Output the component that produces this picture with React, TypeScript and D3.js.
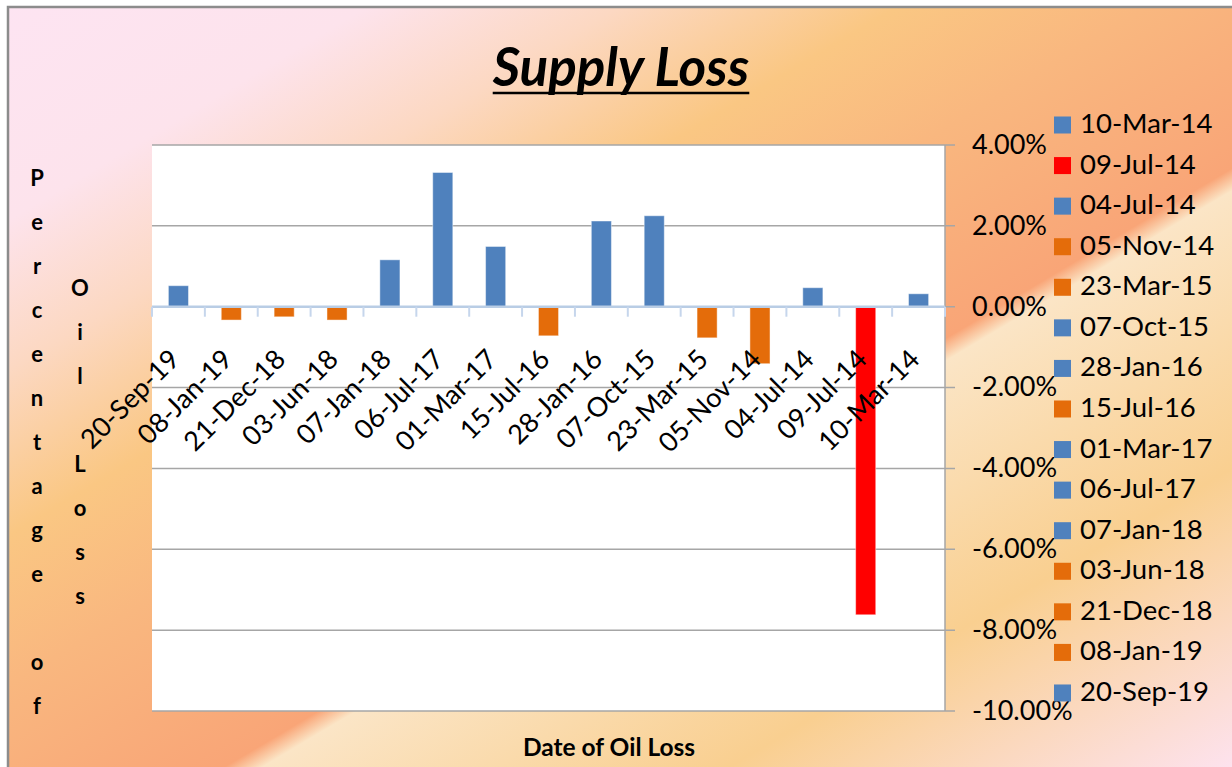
import React, { useEffect, useRef } from "react";
import * as d3 from "d3";

// supply loss per date, in percent, left to right as on the chart
const dates = [
  "20-Sep-19", "08-Jan-19", "21-Dec-18", "03-Jun-18", "07-Jan-18",
  "06-Jul-17", "01-Mar-17", "15-Jul-16", "28-Jan-16", "07-Oct-15",
  "23-Mar-15", "05-Nov-14", "04-Jul-14", "09-Jul-14", "10-Mar-14",
];
const losses = [0.52, -0.33, -0.25, -0.33, 1.16, 3.32, 1.49, -0.72, 2.12, 2.25, -0.77, -1.41, 0.47, -7.62, 0.32];
const yTicks = [4, 2, 0, -2, -4, -6, -8, -10];
const highlightDate = "09-Jul-14";

const titleText = "Supply Loss";
const xTitle = "Date of Oil Loss";
const yTitleCols = ["Percentage of", "Oil Loss"];

const W = 1232;
const H = 767;
const FONT = "Lato, 'Open Sans', sans-serif";

function barColor(d: string, v: number) {
  if (d === highlightDate) return "#ff0000";
  return v >= 0 ? "#4f81bd" : "#e46c0a";
}

export default function App() {
  const ref = useRef<SVGSVGElement>(null);

  useEffect(() => {
    const svg = d3.select(ref.current);
    svg.selectAll("*").remove();

    const left = 152, right = 945, top = 145, bottom = 711;

    const x = d3.scaleBand<string>().domain(dates).range([left, right]).paddingInner(0.62).paddingOuter(0.31);
    const y = d3.scaleLinear().domain([-10, 4]).range([bottom, top]);

    // background gradient
    const grad = svg.append("defs").append("linearGradient")
      .attr("id", "bg")
      .attr("gradientUnits", "userSpaceOnUse")
      .attr("x1", 0).attr("y1", 0).attr("x2", 659).attr("y2", 1109);
    const stops: [number, string][] = [
      [0, "#fde4f2"], [0.15, "#fde3ec"], [0.25, "#fcd8c2"], [0.36, "#fac783"],
      [0.46, "#f9b77f"], [0.6, "#f9a577"], [0.615, "#fbe5c6"], [0.8, "#f9cf90"], [1, "#fde2ee"],
    ];
    grad.selectAll("stop").data(stops).enter().append("stop")
      .attr("offset", (d) => d[0])
      .attr("stop-color", (d) => d[1]);

    svg.append("rect")
      .attr("x", 8).attr("y", 7)
      .attr("width", W).attr("height", H)
      .attr("fill", "url(#bg)")
      .attr("stroke", "#8c8c8c")
      .attr("stroke-width", 2.5);

    // plot area
    svg.append("rect")
      .attr("x", left).attr("y", top)
      .attr("width", right - left).attr("height", bottom - top)
      .attr("fill", "#fff");

    svg.selectAll(".grid").data(yTicks).enter().append("line")
      .attr("x1", left).attr("x2", right + 10)
      .attr("y1", (d) => y(d)).attr("y2", (d) => y(d))
      .attr("stroke", "#a6a6a6").attr("stroke-width", 1.5);

    svg.append("line")
      .attr("x1", right).attr("x2", right)
      .attr("y1", top).attr("y2", bottom)
      .attr("stroke", "#a6a6a6").attr("stroke-width", 1.5);

    // bars
    svg.selectAll(".bar").data(dates).enter().append("rect")
      .attr("x", (d) => x(d)!)
      .attr("width", x.bandwidth())
      .attr("y", (d, i) => y(Math.max(losses[i], 0)))
      .attr("height", (d, i) => Math.abs(y(losses[i]) - y(0)))
      .attr("fill", (d, i) => barColor(d, losses[i]))
      .attr("stroke", "#ffffff").attr("stroke-opacity", 0.45).attr("stroke-width", 1);

    // category axis at zero
    const y0 = y(0);
    svg.append("line")
      .attr("x1", left).attr("x2", right)
      .attr("y1", y0).attr("y2", y0)
      .attr("stroke", "#b9cde5").attr("stroke-width", 2.5);
    const step = x.step();
    svg.selectAll(".xtick").data(d3.range(dates.length + 1)).enter().append("line")
      .attr("x1", (i) => left + step * i).attr("x2", (i) => left + step * i)
      .attr("y1", y0).attr("y2", y0 + 10)
      .attr("stroke", "#c6d6ec").attr("stroke-width", 2);

    svg.selectAll(".xlab").data(dates).enter().append("text")
      .attr("transform", (d) => "translate(" + (x(d)! + x.bandwidth() / 2 - 2) + "," + 356 + ") rotate(-45)")
      .attr("text-anchor", "end")
      .attr("dominant-baseline", "middle")
      .style("font-family", FONT)
      .style("font-size", "27px")
      .attr("fill", "#000")
      .text((d) => d);

    // value axis labels (right)
    svg.selectAll(".ylab").data(yTicks).enter().append("text")
      .attr("x", 972).attr("y", (d) => y(d) + 2)
      .attr("dominant-baseline", "middle")
      .style("font-family", FONT)
      .style("font-size", "27px")
      .attr("fill", "#000")
      .text((d) => d.toFixed(2) + "%");

    // legend, reversed order
    const legendItems = dates.map((d, i) => ({ d, v: losses[i] })).reverse();
    const lg = svg.selectAll(".leg").data(legendItems).enter().append("g")
      .attr("transform", (d, i) => "translate(1054," + (125 + i * 40.57) + ")");
    lg.append("rect")
      .attr("x", 0).attr("y", -8.5)
      .attr("width", 17).attr("height", 17)
      .attr("fill", (d) => barColor(d.d, d.v));
    lg.append("text")
      .attr("x", 26).attr("y", 1)
      .attr("dominant-baseline", "middle")
      .style("font-family", FONT)
      .style("font-size", "27.5px")
      .attr("fill", "#000")
      .text((d) => d.d);

    // title
    const t = svg.append("text")
      .attr("x", 621).attr("y", 86)
      .attr("text-anchor", "middle")
      .style("font-family", FONT)
      .style("font-size", "53px")
      .style("font-weight", "bold")
      .style("font-style", "italic")
      .attr("fill", "#000")
      .text(titleText);
    const tw = (t.node() as SVGTextElement).getComputedTextLength();
    svg.append("line")
      .attr("x1", 621 - tw / 2).attr("x2", 621 + tw / 2)
      .attr("y1", 93).attr("y2", 93)
      .attr("stroke", "#000").attr("stroke-width", 2.5);

    // x title
    svg.append("text")
      .attr("x", 609).attr("y", 756)
      .attr("text-anchor", "middle")
      .style("font-family", FONT)
      .style("font-size", "24.5px")
      .style("font-weight", "bold")
      .attr("fill", "#000")
      .text(xTitle);

    // y title, stacked letters in two columns
    const colX = [37, 80];
    const colY = [180, 290];
    yTitleCols.forEach((s, c) => {
      svg.selectAll(".yt" + c).data(s.split("")).enter().append("text")
        .attr("x", colX[c]).attr("y", (ch, i) => colY[c] + i * 44)
        .attr("text-anchor", "middle")
        .attr("dominant-baseline", "middle")
        .style("font-family", FONT)
        .style("font-size", "22px")
        .style("font-weight", "bold")
        .attr("fill", "#000")
        .text((ch) => ch);
    });
  }, []);

  return <svg ref={ref} width={W} height={H} style={{ position: "absolute", left: 0, top: 0 }} />;
}
